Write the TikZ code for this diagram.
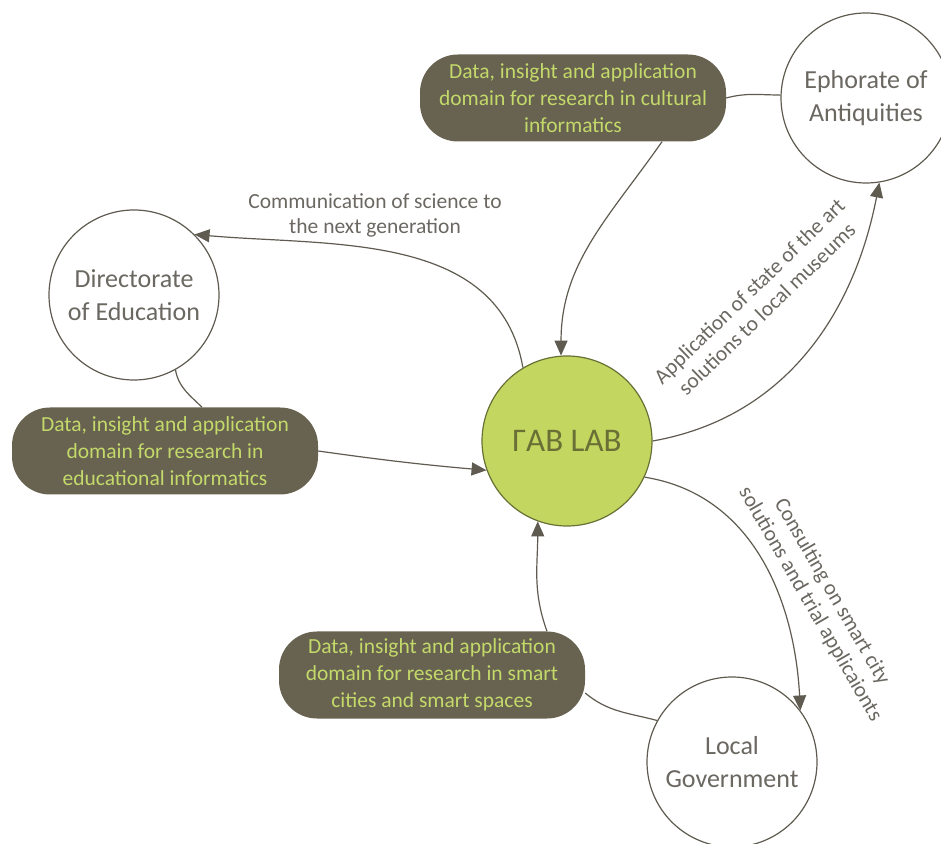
\documentclass[tikz,border=0pt]{standalone}
\usepackage{fontspec}
\setmainfont{Carlito}
\usetikzlibrary{arrows.meta}
\definecolor{pillfill}{HTML}{686250}
\definecolor{pilltext}{HTML}{C3D96A}
\definecolor{fabfill}{HTML}{C2D660}
\definecolor{fabtext}{HTML}{6A7035}
\definecolor{linec}{HTML}{5F5B50}
\definecolor{circtext}{HTML}{6B6862}
\begin{document}
\begin{tikzpicture}[x=1pt,y=1pt,
  actor/.style={circle, draw=linec, line width=1.2pt, fill=white, minimum size=170pt, inner sep=0pt, align=center, text=circtext, font=\fontsize{26}{33}\selectfont},
  hub/.style={circle, draw=fabtext, line width=1.2pt, fill=fabfill, minimum size=170pt, inner sep=0pt, text=fabtext, font=\fontsize{33}{38}\selectfont},
  pill/.style={rectangle, rounded corners=38pt, fill=pillfill, minimum width=306pt, minimum height=87pt, inner sep=0pt, align=center, text=pilltext, font=\fontsize{21.5}{27}\selectfont},
  lbl/.style={align=center, text=circtext, font=\fontsize{21.5}{25}\selectfont, inner sep=0pt},
  conn/.style={draw=linec, line width=1.2pt},
  arr/.style={conn, -{Triangle[length=15pt,width=13pt]}}
]
\useasboundingbox (0,0) rectangle (941,843);
\node[hub] (fab) at (567,402) {ΓAB LAB};
\node[actor] (eph) at (866,745) {Ephorate of\\Antiquities};
\node[actor] (dir) at (134,548) {Directorate\\of Education};
\node[actor] (loc) at (732,81) {Local\\Government};
\node[pill] (ptop) at (573,745) {Data, insight and application\\domain for research in cultural\\informatics};
\node[pill] (pleft) at (165,392) {Data, insight and application\\domain for research in\\educational informatics};
\node[pill] (pbot) at (432,168) {Data, insight and application\\domain for research in smart\\cities and smart spaces};
\node[lbl] (lcomm) at (375,628) {Communication of science to\\the next generation};
\node[lbl, rotate=44] (lapp) at (758,543) {Application of state of the art\\solutions to local museums};
\node[lbl, rotate=-60] (lcons) at (821,245) {Consulting on smart city\\solutions and trial applicaionts};
\draw[conn] (ptop.east) to[out=15,in=180] (eph.178);
\draw[arr] ([xshift=89pt]ptop.south) to[out=235,in=90] (fab.94);
\draw[arr] (fab.121) to[out=100,in=-5] (dir.45);
\draw[conn] (dir.-61) to[out=-80,in=135] ([xshift=37pt]pleft.north);
\draw[arr] (pleft.east) to[out=-8,in=175] (fab.200);
\draw[arr] (fab.0) to[out=10,in=-101] (eph.-81);
\draw[arr] (fab.-25) to[out=-9,in=93] (loc.37);
\draw[conn] (loc.151) to[out=165,in=-40] ([yshift=-18pt]pbot.east);
\draw[arr] ([xshift=115pt]pbot.north) to[out=110,in=-90] (fab.250);
\end{tikzpicture}
\end{document}
